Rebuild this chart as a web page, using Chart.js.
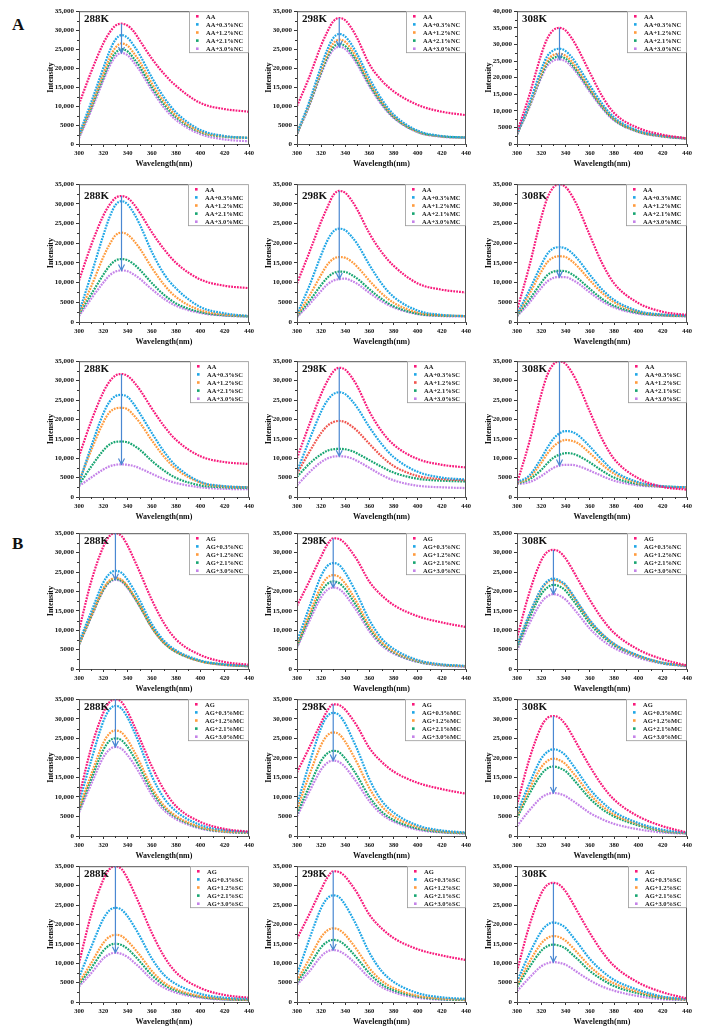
<!DOCTYPE html>
<html>
<head>
<meta charset="utf-8">
<script src="https://cdn.jsdelivr.net/npm/chart.js@4.4.0/dist/chart.umd.min.js"></script>
<style>
body { margin: 0; background: #fff; width: 703px; height: 1034px; position: relative; overflow: hidden; }
canvas { position: absolute; }
.tag { position: absolute; font: bold 17px 'Liberation Serif', serif; color: #111; }
</style>
</head>
<body>
<div class="tag" style="left:12px;top:15px">A</div>
<div class="tag" style="left:12px;top:534px">B</div>
<script>
//Data (wavelength in nm, intensity in a.u.)
const wavelengths = [300, 310, 320, 325, 330, 335, 340, 345, 350, 360, 370, 380, 400, 420, 440];
const temps = ['288K', '298K', '308K'];
const levels = ['', '+0.3%', '+1.2%', '+2.1%', '+3.0%'];
const yLabels35 = ['0', '5000', '10,000', '15,000', '20,000', '25,000', '30,000', '35,000'];
const yLabels40 = ['0', '5000', '10,000', '15,000', '20,000', '25,000', '30,000', '35,000', '40,000'];
const xLabels = ['300', '320', '340', '360', '380', '400', '420', '440'];

//A - AA with NC
const aaNC288 = [
  [10500, 19000, 26500, 29300, 31200, 31700, 31200, 29700, 27300, 22500, 18500, 15300, 10800, 9200, 8500],
  [2500, 11000, 20000, 24300, 27500, 28700, 28000, 26000, 23500, 17500, 12300, 8300, 3700, 2100, 1600],
  [2200, 10000, 18500, 22500, 25400, 26500, 25900, 24000, 21700, 16000, 11200, 7500, 3300, 2000, 1600],
  [2000, 9500, 17500, 21300, 24000, 25000, 24400, 22600, 20400, 15000, 10400, 7000, 3100, 1900, 1600],
  [1500, 8800, 16700, 20400, 23000, 24000, 23400, 21600, 19400, 14200, 9600, 6300, 2600, 1200, 700]
];
const aaNC298 = [
  [10000, 17500, 26000, 29500, 32300, 33200, 32600, 30600, 27800, 21000, 16800, 13900, 10300, 8500, 7600],
  [2800, 11000, 20500, 24800, 27900, 29000, 28300, 26300, 23600, 17300, 11900, 7800, 3500, 2100, 1700],
  [2700, 10500, 19500, 23600, 26500, 27500, 26900, 25000, 22400, 16400, 11300, 7400, 3300, 2000, 1700],
  [2700, 10200, 18900, 22800, 25500, 26400, 25800, 24000, 21500, 15700, 10800, 7100, 3200, 2000, 1700],
  [2600, 9900, 18400, 22200, 24800, 25600, 25000, 23300, 20900, 15200, 10400, 6900, 3100, 1900, 1600]
];
const aaNC308 = [
  [3500, 14500, 27000, 31800, 34300, 35000, 34200, 31900, 28800, 21500, 14500, 9300, 4800, 2800, 1700],
  [3000, 12000, 22500, 26500, 28200, 28700, 28000, 26200, 23600, 17700, 12200, 8000, 4000, 2500, 1700],
  [3000, 11500, 21300, 25100, 26800, 27200, 26600, 24900, 22400, 16800, 11600, 7600, 3800, 2400, 1700],
  [2900, 11200, 20600, 24300, 25900, 26300, 25700, 24000, 21600, 16200, 11200, 7300, 3700, 2300, 1600],
  [2800, 10900, 20000, 23600, 25100, 25500, 24900, 23300, 21000, 15700, 10800, 7100, 3600, 2200, 1600]
];

//A - AA with MC
const aaMC288 = [
  [10500, 19500, 27000, 29700, 31500, 32000, 31500, 30000, 27800, 22800, 18500, 15000, 10800, 9200, 8600],
  [2500, 12000, 22000, 26500, 29700, 30700, 29900, 27700, 24800, 17800, 12200, 8500, 3800, 2200, 1500],
  [2200, 9000, 16500, 19600, 22000, 22700, 22200, 20700, 18700, 13800, 9500, 6300, 3000, 1900, 1500],
  [2000, 7000, 12000, 14200, 15600, 16000, 15700, 14700, 13300, 9900, 6900, 4700, 2500, 1700, 1400],
  [1500, 5900, 10000, 11800, 12800, 13100, 12900, 12100, 11000, 8300, 5900, 4100, 2300, 1600, 1400]
];
const aaMC298 = [
  [9800, 17500, 25500, 29000, 32200, 33300, 32800, 31000, 28500, 22500, 17800, 14300, 9800, 8200, 7500],
  [2000, 9000, 17000, 20600, 23000, 23700, 23300, 21800, 19800, 14500, 9800, 6400, 2900, 1800, 1500],
  [1700, 6500, 12000, 14500, 16000, 16500, 16300, 15400, 14000, 10500, 7300, 4900, 2400, 1700, 1500],
  [1500, 5200, 9400, 11200, 12400, 12800, 12700, 12000, 11000, 8300, 5900, 4000, 2100, 1600, 1500],
  [1200, 4400, 7900, 9500, 10500, 10900, 11000, 10500, 9700, 7400, 5300, 3700, 2000, 1500, 1400]
];
const aaMC308 = [
  [3000, 14000, 26500, 31500, 34200, 35000, 34300, 32200, 29300, 22000, 15000, 9800, 4800, 2600, 1800],
  [2000, 8000, 14500, 17300, 18700, 19000, 18700, 17600, 16000, 12000, 8300, 5600, 2800, 1900, 1600],
  [1800, 7000, 12800, 15200, 16400, 16700, 16500, 15500, 14100, 10600, 7400, 5000, 2600, 1800, 1500],
  [1600, 5600, 10000, 11900, 12800, 13000, 12900, 12200, 11100, 8400, 5900, 4100, 2300, 1700, 1500],
  [1400, 4800, 8700, 10300, 11200, 11400, 11400, 10800, 9900, 7500, 5300, 3700, 2100, 1600, 1400]
];

//A - AA with SC
const aaSC288 = [
  [10500, 19500, 27000, 29700, 31300, 31700, 31200, 29700, 27700, 22800, 18300, 14700, 10500, 9000, 8500],
  [3500, 13000, 21500, 24500, 26000, 26300, 25800, 24000, 21600, 16500, 11700, 8000, 3900, 2800, 2500],
  [4000, 12000, 19200, 21800, 22800, 23000, 22600, 21100, 19200, 14600, 10400, 7200, 3700, 2700, 2500],
  [3200, 7800, 12000, 13500, 14200, 14300, 14100, 13300, 12200, 9300, 6800, 4900, 3000, 2500, 2300],
  [2800, 5000, 7100, 7900, 8300, 8400, 8300, 8000, 7400, 6000, 4600, 3600, 2500, 2100, 2000]
];
const aaSC298 = [
  [10000, 18500, 26500, 29800, 32300, 33300, 32800, 31000, 28500, 22000, 17000, 13500, 9800, 8300, 7600],
  [6500, 14500, 22000, 24800, 26500, 27000, 26500, 25000, 23000, 18000, 13700, 10300, 6500, 5000, 4500],
  [6000, 11500, 16500, 18300, 19300, 19600, 19300, 18300, 17000, 13700, 10500, 8000, 5400, 4600, 4300],
  [5200, 8500, 11000, 11900, 12300, 12400, 12300, 11900, 11200, 9500, 7800, 6300, 4700, 4200, 4000],
  [3000, 6300, 9000, 9900, 10400, 10500, 10400, 10000, 9300, 7500, 5700, 4300, 2900, 2500, 2300]
];
const aaSC308 = [
  [3500, 14000, 26500, 31500, 34200, 35000, 34300, 32200, 29300, 22000, 15000, 9800, 4800, 2600, 1900],
  [3800, 5500, 10000, 12700, 15000, 16400, 17000, 16800, 16000, 13000, 9600, 6700, 3800, 2800, 2500],
  [3600, 5000, 8800, 11200, 13000, 14200, 14700, 14500, 13900, 11300, 8400, 6000, 3600, 2700, 2500],
  [3500, 4500, 7000, 8700, 10100, 10900, 11300, 11200, 10700, 8900, 6800, 5000, 3300, 2700, 2500],
  [3300, 3800, 5400, 6500, 7500, 8100, 8300, 8300, 8000, 6800, 5400, 4200, 3000, 2600, 2400]
];

//B - AG with NC
const agNC288 = [
  [10000, 22500, 31500, 34200, 35000, 34300, 31800, 28500, 25000, 17800, 11800, 7600, 3600, 1800, 1100],
  [7000, 14700, 22300, 24500, 25300, 24800, 23000, 20500, 17700, 11600, 7300, 4800, 2200, 1200, 800],
  [6500, 13700, 20700, 22800, 23500, 23000, 21400, 19000, 16500, 10800, 6800, 4500, 2000, 1100, 700],
  [6300, 13500, 20400, 22500, 23200, 22700, 21100, 18800, 16200, 10700, 6700, 4400, 2000, 1100, 700],
  [6200, 13300, 20200, 22300, 23000, 22500, 20900, 18600, 16100, 10600, 6700, 4400, 2000, 1000, 700]
];
const agNC298 = [
  [16300, 22500, 29000, 32000, 33700, 33500, 32300, 30300, 28000, 22500, 19000, 16500, 13600, 12000, 10800],
  [7100, 15800, 24000, 26500, 27300, 26800, 24800, 22100, 19100, 12600, 7900, 5200, 2300, 1200, 800],
  [6300, 14000, 21300, 23500, 24200, 23700, 22000, 19600, 16900, 11100, 7000, 4600, 2100, 1100, 700],
  [5900, 13100, 19900, 21900, 22600, 22100, 20600, 18300, 15800, 10400, 6600, 4300, 1900, 1000, 700],
  [5500, 12200, 18500, 20400, 21000, 20600, 19100, 17000, 14700, 9700, 6100, 4000, 1800, 900, 600]
];
const agNC308 = [
  [8000, 19500, 28000, 30200, 30700, 30200, 28500, 26000, 23200, 17800, 13000, 9300, 5000, 2500, 900],
  [6000, 14000, 20700, 22600, 23300, 22800, 21700, 19600, 17200, 12600, 9100, 6500, 3500, 1600, 800],
  [5900, 13800, 20500, 22300, 23000, 22500, 21400, 19300, 17000, 12400, 9000, 6400, 3400, 1600, 800],
  [5500, 13000, 19300, 21000, 21700, 21300, 20200, 18200, 16100, 11700, 8500, 6100, 3300, 1500, 800],
  [4800, 11600, 17200, 18700, 19300, 18900, 17900, 16200, 14300, 10400, 7500, 5400, 2900, 1400, 700]
];

//B - AG with MC
const agMC288 = [
  [10000, 22500, 31500, 34200, 35000, 34300, 31800, 28500, 25000, 17800, 11800, 7600, 3600, 1800, 1100],
  [8500, 19300, 29300, 32300, 33300, 32600, 30300, 27000, 23300, 15300, 9700, 6300, 2800, 1500, 1000],
  [7000, 15700, 23800, 26200, 27000, 26500, 24600, 21900, 18900, 12400, 7800, 5100, 2300, 1200, 900],
  [6500, 14500, 22000, 24300, 25000, 24500, 22800, 20300, 17500, 11500, 7300, 4800, 2100, 1100, 800],
  [6000, 13200, 20100, 22100, 22800, 22300, 20700, 18500, 16000, 10500, 6600, 4300, 1900, 1000, 800]
];
const agMC298 = [
  [16300, 22500, 29000, 32000, 33700, 33500, 32300, 30300, 28000, 22500, 19000, 16500, 13600, 12000, 10800],
  [8000, 18300, 27700, 30600, 31500, 30900, 28700, 25500, 22100, 14500, 9100, 6000, 2700, 1400, 900],
  [6800, 15400, 23300, 25700, 26500, 26000, 24100, 21500, 18600, 12200, 7700, 5000, 2300, 1200, 800],
  [5700, 12600, 19200, 21100, 21800, 21400, 19800, 17700, 15300, 10000, 6300, 4100, 1900, 1000, 700],
  [5000, 11200, 17000, 18700, 19300, 18900, 17600, 15600, 13500, 8900, 5600, 3700, 1600, 900, 600]
];
const agMC308 = [
  [8000, 19500, 28000, 30200, 30700, 30200, 28500, 26000, 23200, 17800, 13000, 9300, 5000, 2500, 900],
  [5800, 13300, 19800, 21500, 22200, 21800, 20600, 18600, 16400, 12000, 8700, 6200, 3300, 1600, 800],
  [5100, 11900, 17600, 19200, 19800, 19400, 18400, 16600, 14700, 10700, 7700, 5500, 3000, 1400, 700],
  [4600, 10700, 15800, 17300, 17800, 17400, 16600, 15000, 13200, 9600, 6900, 5000, 2700, 1200, 700],
  [2500, 6500, 9800, 10700, 11000, 10800, 10200, 9200, 8100, 5900, 4300, 3100, 1700, 900, 600]
];

//B - AG with SC
const agSC288 = [
  [10000, 22500, 31500, 34200, 35000, 34300, 31800, 28500, 25000, 17800, 11800, 7600, 3600, 1800, 1100],
  [6300, 14100, 21400, 23600, 24300, 23800, 22100, 19700, 17000, 11200, 7000, 4600, 2100, 1100, 800],
  [5000, 10000, 15200, 16800, 17300, 17000, 15700, 14000, 12100, 8000, 5000, 3300, 1500, 800, 600],
  [4500, 8700, 13200, 14600, 15000, 14700, 13700, 12200, 10500, 6900, 4400, 2900, 1300, 700, 500],
  [4000, 7400, 11200, 12300, 12700, 12400, 11600, 10300, 8900, 5800, 3700, 2400, 1100, 600, 500]
];
const agSC298 = [
  [16300, 22500, 29000, 32000, 33700, 33500, 32300, 30300, 28000, 22500, 19000, 16500, 13600, 12000, 10800],
  [7000, 16000, 24200, 26700, 27500, 27000, 25000, 22300, 19300, 12700, 8000, 5200, 2300, 1200, 800],
  [5500, 11000, 16700, 18400, 19000, 18600, 17300, 15400, 13300, 8700, 5500, 3600, 1600, 900, 600],
  [5000, 9300, 14100, 15500, 16000, 15700, 14600, 13000, 11200, 7400, 4600, 3000, 1400, 700, 500],
  [4500, 7800, 11800, 13000, 13400, 13100, 12200, 10900, 9400, 6200, 3900, 2500, 1100, 600, 500]
];
const agSC308 = [
  [8000, 19500, 28000, 30200, 30700, 30200, 28500, 26000, 23200, 17800, 13000, 9300, 5000, 2500, 900],
  [5300, 12300, 18200, 19900, 20500, 20100, 19100, 17200, 15200, 11100, 8000, 5700, 3100, 1400, 700],
  [4400, 10200, 15100, 16500, 17000, 16700, 15800, 14300, 12600, 9200, 6600, 4800, 2600, 1200, 600],
  [3900, 8900, 13200, 14400, 14800, 14500, 13800, 12400, 11000, 8000, 5800, 4100, 2200, 1000, 600],
  [2800, 6200, 9200, 10000, 10300, 10100, 9600, 8700, 7600, 5600, 4000, 2900, 1500, 700, 500]
];

//Layout
const colLeft = [79, 297, 517];
const colRight = [249, 466, 687];
const rowTop = [11, 184, 361, 533, 699, 866];
const rowBottom = [144, 322, 497, 669, 836, 1002];
const serif = "'Liberation Serif', 'Times New Roman', serif";

const seriesColors = ['#f8197b', '#1fa6e6', '#ff9b3d', '#17a571', '#c482e8'];
const arrowColor = '#4a88d2';

const panels = [
  { base: 'AA', add: 'NC', row: 0, col: 0, data: aaNC288 },
  { base: 'AA', add: 'NC', row: 0, col: 1, data: aaNC298 },
  { base: 'AA', add: 'NC', row: 0, col: 2, data: aaNC308, yMax: 40000 },
  { base: 'AA', add: 'MC', row: 1, col: 0, data: aaMC288 },
  { base: 'AA', add: 'MC', row: 1, col: 1, data: aaMC298 },
  { base: 'AA', add: 'MC', row: 1, col: 2, data: aaMC308 },
  { base: 'AA', add: 'SC', row: 2, col: 0, data: aaSC288 },
  { base: 'AA', add: 'SC', row: 2, col: 1, data: aaSC298, red: true },
  { base: 'AA', add: 'SC', row: 2, col: 2, data: aaSC308 },
  { base: 'AG', add: 'NC', row: 3, col: 0, data: agNC288 },
  { base: 'AG', add: 'NC', row: 3, col: 1, data: agNC298 },
  { base: 'AG', add: 'NC', row: 3, col: 2, data: agNC308 },
  { base: 'AG', add: 'MC', row: 4, col: 0, data: agMC288 },
  { base: 'AG', add: 'MC', row: 4, col: 1, data: agMC298 },
  { base: 'AG', add: 'MC', row: 4, col: 2, data: agMC308 },
  { base: 'AG', add: 'SC', row: 5, col: 0, data: agSC288 },
  { base: 'AG', add: 'SC', row: 5, col: 1, data: agSC298 },
  { base: 'AG', add: 'SC', row: 5, col: 2, data: agSC308 }
];

//Frame, minor ticks, arrow, temperature and legend
function makeDeco(p, names, colors) {
  return {
    id: 'deco',
    afterDatasetsDraw(chart) {
      const { ctx, chartArea: a, scales: { x, y } } = chart;
      ctx.save();
      ctx.strokeStyle = '#555';
      ctx.lineWidth = 1;
      ctx.strokeRect(a.left + 0.5, a.top + 0.5, a.right - a.left - 1, a.bottom - a.top);

      // minor ticks
      ctx.strokeStyle = '#333';
      ctx.beginPath();
      for (let v = 310; v < 440; v += 20) {
        const px = Math.round(x.getPixelForValue(v)) + 0.5;
        ctx.moveTo(px, a.bottom); ctx.lineTo(px, a.bottom + 2);
      }
      for (let v = 2500; v < y.max; v += 5000) {
        const py = Math.round(y.getPixelForValue(v)) + 0.5;
        ctx.moveTo(a.left, py); ctx.lineTo(a.left - 2, py);
      }
      ctx.stroke();

      // arrow from top curve peak down to bottom curve peak
      const k = p.peak;
      const ax = x.getPixelForValue(wavelengths[k]);
      const y1 = y.getPixelForValue(p.data[0][k]);
      const y2 = y.getPixelForValue(p.data[4][k]);
      ctx.strokeStyle = arrowColor;
      ctx.lineWidth = 1.2;
      ctx.beginPath();
      ctx.moveTo(ax, y1); ctx.lineTo(ax, y2);
      ctx.moveTo(ax - 3, y2 - 6); ctx.lineTo(ax, y2); ctx.lineTo(ax + 3, y2 - 6);
      ctx.stroke();

      // temperature
      ctx.fillStyle = '#111';
      ctx.font = 'bold 11px ' + serif;
      ctx.textBaseline = 'alphabetic';
      ctx.fillText(temps[p.col], a.left + 5, a.top + (p.row === 1 ? 15 : 11));

      // legend box
      ctx.font = 'bold 6.5px ' + serif;
      let tw = 0;
      names.forEach(n => { tw = Math.max(tw, ctx.measureText(n).width); });
      const w = Math.ceil(tw) + 22, h = 41;
      const bx = a.right - w, by = a.top;
      ctx.fillStyle = '#fff';
      ctx.fillRect(bx, by, w, h);
      ctx.strokeStyle = '#999';
      ctx.lineWidth = 0.8;
      ctx.strokeRect(bx + 0.5, by + 0.5, w - 1, h);
      names.forEach((n, i) => {
        const cy = by + 5 + i * 8.1;
        ctx.fillStyle = colors[i];
        ctx.fillRect(bx + 7, cy - 1.2, 2.6, 2.6);
        ctx.fillStyle = '#222';
        ctx.fillText(n, bx + 17, cy + 2.4);
      });
      ctx.restore();
    }
  };
}

panels.forEach(p => {
  p.peak = p.base === 'AA' ? 5 : 4;
  const yMax = p.yMax || 35000;
  const yLabels = yMax === 40000 ? yLabels40 : yLabels35;
  const names = levels.map(l => l ? p.base + l + p.add : p.base);
  const colors = seriesColors.slice();
  if (p.red) colors[2] = '#f0554e';

  const L = colLeft[p.col], R = colRight[p.col];
  const T = rowTop[p.row], B = rowBottom[p.row];
  const yW = 34, xH = 26, padT = 6, padR = 8;

  const canvas = document.createElement('canvas');
  canvas.width = R - L + yW + padR;
  canvas.height = B - T + padT + xH;
  canvas.style.left = (L - yW) + 'px';
  canvas.style.top = (T - padT) + 'px';
  document.body.appendChild(canvas);

  new Chart(canvas, {
    type: 'line',
    data: {
      datasets: p.data.map((vals, i) => ({
        label: names[i],
        data: vals.map((v, j) => ({ x: wavelengths[j], y: v })),
        borderColor: colors[i],
        borderWidth: 2.2,
        borderDash: [1.8, 1.1],
        pointRadius: 0,
        cubicInterpolationMode: 'monotone',
        fill: false
      }))
    },
    options: {
      responsive: false,
      animation: false,
      layout: { padding: { top: padT, right: padR, left: 0, bottom: 0 } },
      scales: {
        x: {
          type: 'linear',
          min: 300,
          max: 440,
          afterFit(scale) { scale.height = xH; },
          ticks: {
            stepSize: 20,
            padding: 2,
            color: '#111',
            font: { family: serif, size: 6.5, weight: 'bold' },
            callback: v => xLabels[(v - 300) / 20]
          },
          grid: { drawOnChartArea: false, tickLength: 3, color: '#333' },
          border: { color: '#555' },
          title: { display: true, text: 'Wavelength(nm)', color: '#111', padding: 1, font: { family: serif, size: 8, weight: 'bold' } }
        },
        y: {
          min: 0,
          max: yMax,
          afterFit(scale) { scale.width = yW; },
          ticks: {
            stepSize: 5000,
            padding: 2,
            color: '#111',
            font: { family: serif, size: 7, weight: 'bold' },
            callback: v => yLabels[Math.round(v / 5000)]
          },
          grid: { drawOnChartArea: false, tickLength: 3, color: '#333' },
          border: { color: '#555' },
          title: { display: true, text: 'Intensity', color: '#111', padding: 1, font: { family: serif, size: 8, weight: 'bold' } }
        }
      },
      plugins: {
        legend: { display: false },
        tooltip: { enabled: false }
      }
    },
    plugins: [makeDeco(p, names, colors)]
  });
});
</script>
</body>
</html>
